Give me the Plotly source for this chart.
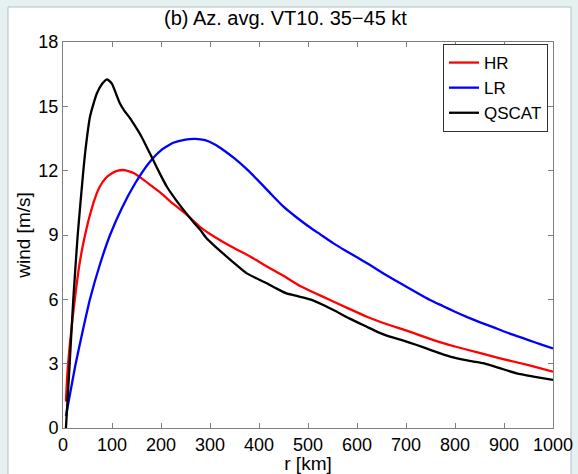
import plotly.graph_objects as go

r_hr = [6, 8, 10, 14, 20, 26.5, 33, 40, 47, 54, 65, 75, 87, 100, 112, 123, 135, 145, 160, 180, 200, 225, 250, 268, 280, 300, 325, 350, 382, 400, 425, 450, 484, 515, 545, 580, 620, 660, 700, 756, 800, 850, 892, 950, 1000]
v_hr = [1.23, 2.2, 2.9, 3.9, 5.2, 6.45, 7.55, 8.45, 9.2, 9.85, 10.7, 11.25, 11.65, 11.88, 12.0, 12.03, 11.97, 11.88, 11.65, 11.3, 10.95, 10.45, 10.0, 9.62, 9.37, 9.05, 8.7, 8.38, 8.0, 7.75, 7.42, 7.1, 6.62, 6.28, 5.97, 5.6, 5.19, 4.85, 4.55, 4.1, 3.8, 3.5, 3.25, 2.93, 2.63]

r_lr = [6, 25, 40, 55, 75, 96, 120, 147, 175, 200, 225, 250, 270, 290, 310, 330, 350, 375, 400, 425, 450, 475, 500, 525, 552, 575, 600, 625, 654, 675, 700, 725, 749, 775, 800, 825, 850, 875, 900, 925, 950, 975, 1000]
v_lr = [0.56, 2.9, 4.5, 6.0, 7.6, 9.0, 10.25, 11.4, 12.35, 12.95, 13.3, 13.45, 13.48, 13.42, 13.22, 12.92, 12.57, 12.07, 11.5, 10.9, 10.32, 9.85, 9.42, 9.03, 8.61, 8.29, 7.96, 7.62, 7.21, 6.93, 6.6, 6.27, 5.97, 5.69, 5.42, 5.17, 4.94, 4.73, 4.5, 4.3, 4.1, 3.9, 3.71]

r_qs = [6, 13.6, 21, 30, 41.5, 46, 55, 62, 69, 80, 90, 100, 108, 116, 125, 137, 148, 160, 172, 184, 198, 212, 230, 246, 268, 280, 293, 307, 320, 334, 355, 375, 395, 416, 436, 456, 470, 484, 504, 530, 552, 585, 620, 645, 667, 695, 722, 755, 790, 825, 858, 890, 926, 960, 1000]
v_qs = [0.0, 3.0, 6.0, 9.0, 12.0, 13.0, 14.5, 15.1, 15.6, 16.05, 16.26, 16.05, 15.6, 15.14, 14.8, 14.44, 14.05, 13.59, 13.05, 12.5, 11.85, 11.25, 10.65, 10.17, 9.55, 9.24, 8.85, 8.54, 8.27, 7.99, 7.58, 7.21, 6.98, 6.75, 6.5, 6.28, 6.2, 6.12, 6.0, 5.75, 5.5, 5.1, 4.72, 4.45, 4.26, 4.07, 3.87, 3.6, 3.33, 3.15, 3.02, 2.8, 2.55, 2.4, 2.24]

x_ticks = list(range(0, 1001, 100))
y_ticks = list(range(0, 19, 3))

FONT = "Liberation Sans, Arial, Helvetica, sans-serif"

fig = go.Figure()
fig.add_trace(go.Scatter(x=r_hr, y=v_hr, mode="lines", name="HR",
                         line=dict(color="#ff0000", width=2.3, shape="spline", smoothing=0.5)))
fig.add_trace(go.Scatter(x=r_lr, y=v_lr, mode="lines", name="LR",
                         line=dict(color="#0000ff", width=2.3, shape="spline", smoothing=0.5)))
fig.add_trace(go.Scatter(x=r_qs, y=v_qs, mode="lines", name="QSCAT",
                         line=dict(color="#000000", width=2.3, shape="spline", smoothing=0.5)))

W, H = 578, 474
L, R, T, B = 63, 25, 42, 46
pw, ph = W - L - R, H - T - B

def px(xp):
    return (xp - L) / pw

def py(yp):
    return (H - B - yp) / ph

fig.add_shape(type="rect", xref="paper", yref="paper", layer="below",
              x0=px(8), x1=px(571), y0=py(480), y1=py(7),
              fillcolor="white", line=dict(color="#b4c0c2", width=1))

axis_common = dict(showline=True, linecolor="#7f7f7f", linewidth=1, mirror="ticks",
                   ticks="inside", ticklen=5, tickcolor="#7f7f7f", showgrid=False,
                   zeroline=False, automargin=False,
                   tickfont=dict(family=FONT, size=18, color="black"))

fig.update_layout(
    width=W, height=H,
    margin=dict(l=L, r=R, t=T, b=B, autoexpand=False),
    paper_bgcolor="#e5f0f1", plot_bgcolor="white",
    title=dict(text="(b) Az. avg. VT10. 35\u221245 kt", x=px(305), xanchor="center",
               y=1 - 18 / H, yanchor="middle",
               font=dict(family=FONT, size=20, color="black")),
    xaxis=dict(range=[0, 1000], tickvals=x_ticks, ticktext=[str(t) for t in x_ticks],
               title=dict(text="r [km]", font=dict(family=FONT, size=19, color="black"), standoff=0),
               **axis_common),
    yaxis=dict(range=[0, 18], tickvals=y_ticks, ticktext=[str(t) for t in y_ticks],
               title=dict(text="wind [m/s]", font=dict(family=FONT, size=19, color="black"), standoff=2),
               **axis_common),
    legend=dict(x=px(548), xanchor="right", y=py(44), yanchor="top",
                bgcolor="white", bordercolor="#333333", borderwidth=1,
                font=dict(family=FONT, size=17, color="black"),
                tracegroupgap=0, itemwidth=30),
    showlegend=True,
)

fig.write_html(
    "out.html",
    config={"displayModeBar": False, "responsive": False},
    post_script=(
        "document.documentElement.style.margin='0';"
        "document.documentElement.style.overflow='hidden';"
        "document.body.style.margin='0';"
        "document.body.style.overflow='hidden';"
        "document.body.style.background='#e5f0f1';"
    ),
)
